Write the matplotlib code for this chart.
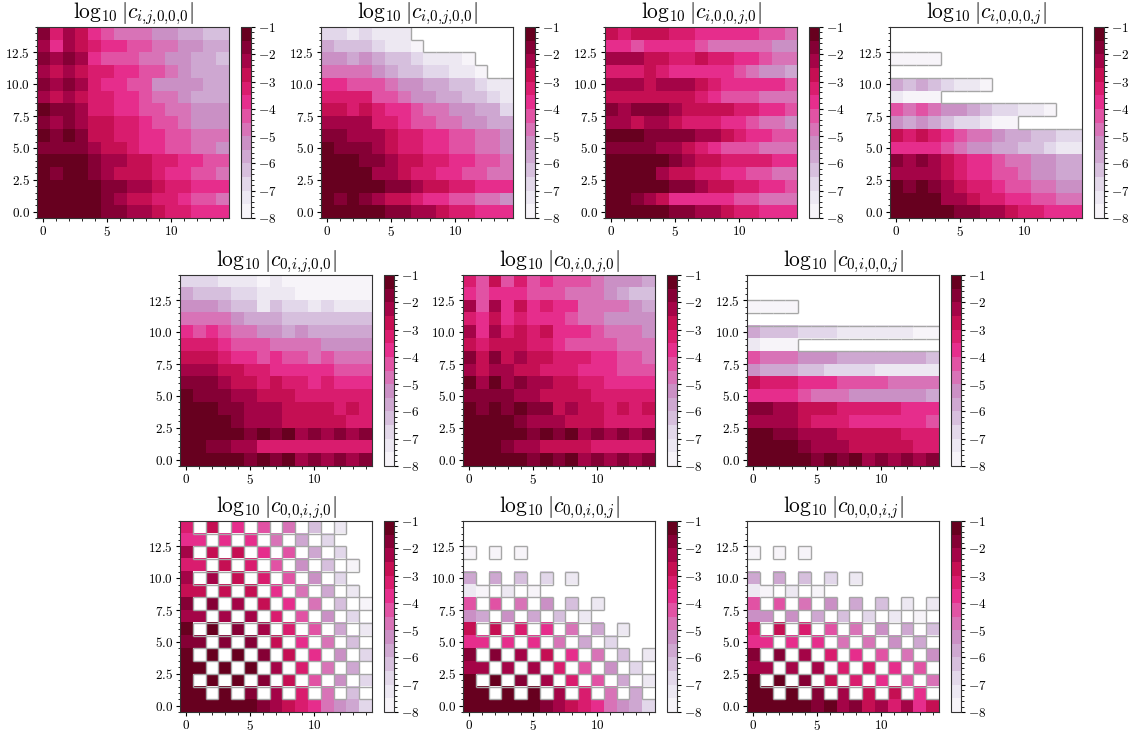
import numpy as np
import matplotlib
matplotlib.use('Agg')
import matplotlib.pyplot as plt
from matplotlib.collections import LineCollection
from matplotlib.colors import Normalize
from matplotlib.ticker import AutoMinorLocator, FixedLocator

plt.rcParams.update({
    'font.family': 'serif',
    'font.serif': ['cmr10', 'DejaVu Serif'],
    'mathtext.fontset': 'cm',
    'axes.formatter.use_mathtext': True,
    'font.size': 9.5,
    'xtick.labelsize': 9.5,
    'ytick.labelsize': 9.5,
    'xtick.direction': 'out',
    'ytick.direction': 'out',
    'xtick.major.size': 3,
    'ytick.major.size': 3,
    'xtick.minor.size': 1.8,
    'ytick.minor.size': 1.8,
    'xtick.major.pad': 2,
    'ytick.major.pad': 2,
    'axes.linewidth': 0.8,
})

# Read colour levels: one character per cell, k = 0..13 ('a'=10 ... 'd'=13),
# the cell value is the centre of its band: log10|c| = -8 + 0.5*k + 0.25 ; '.' = no value
# Rows are listed from top (j = 14) to bottom (j = 0), columns i = 0..14.
c_ij000 = ["c9ba87666554433", "b8ba98877665544", "cbcb87776655443", "baba99887765444",
           "cbcb98877555544", "baba99887665444", "dccb99887766555", "cbcbaa998776555",
           "dcdcaa998877666", "ccccbaa98877665", "ddddcbbaa998877", "dcddcbaaa988776",
           "dddddccbba99888", "dddddcbaa998776", "dddddccbba99888"]
c_i0j00 = ["2212111........", "43332110.......", "554543321110...", "6666543322110..",
           "887776554433211", "999977655443321", "aa9a98876655442", "bbbb99877665544",
           "ccbbba998877665", "dcccba998877665", "dddccbaa9988776", "ddddbba99887766",
           "dddddccbaa99888", "dcdcbaa98877665", "dddddccbba99888"]
c_i00j0 = ["a9aaa9988888776", "887888876666655", "bbbaa99a9988766", "999a98888876554",
           "bbbabbba9888887", "aaaaaaa98777666", "cbcccbaaaa99887", "bbabba999887665",
           "dddccccbba98877", "ccccbba98777666", "dddddcbaa999988", "ddddbaa99887766",
           "dddddccbaa99887", "ddcba8888877666", "dddddccbba99888"]
c_i000j = ["...............", "...............", "0000...........", "...............",
           "43432110.......", "1000...........", "7676554322110..", "5454322100.....",
           "a9a987665443322", "888876554433211", "cbcba9887665544", "bbbba9887765544",
           "dcdcba998776655", "ddddbba99887766", "dddddccbba99888"]
c_0ij00 = ["222111010000000", "433322111000000", "555433132212111", "666654443333333",
           "878766554544444", "999877766665555", "aaa988787767666", "bbbaa9988888777",
           "cccbaa9a9989888", "dcccbbaaa999999", "dddccbbbaaaa9a9", "ddddcbbbaaaaa99",
           "dddddcdcdbcbcbc", "ddccbb999999999", "dddddcdcdbcbcbc"]
c_0i0j0 = ["97a797877765554", "878887776665433", "b7b8a8988666654", "98a898887665555",
           "b8b9a9a88876665", "a9aaa9987777666", "cacabaa99988776", "babbaa999888777",
           "dbdbcbbaa998888", "ccccbbaaaa99999", "dcdcdccabaa9a9a", "ddddcbbbaaa9999",
           "dddddcdcdbcbcbc", "dddcbbaaaa99999", "dddddcdcdbcbcbc"]
c_0i00j = ["...............", "...............", "0000...........", "...............",
           "433322211111100", "1000...........", "766655544444443", "544433222211111",
           "a99988877776666", "888876665555554", "ccbbaaa99999888", "bbbba9998888887",
           "ddccbbbaaaaa999", "ddddcbbbaaaaa99", "dddddcdcdbcbcbc"]
c_00ij0 = ["9.a.8.7.6.3.1..", "88.8.8.6.4.2...", "b.a.a.8.7.4.2..", "99.a.9.7.5.3.0.",
           "b.b.a.9.7.5.2..", "aa.a.a.8.6.4.1.", "c.c.b.a.8.6.3.0", "bb.b.b.9.7.5.2.",
           "d.d.c.b.9.7.4.1", "cc.c.c.a.8.6.3.", "d.d.d.c.a.8.5.2", "dd.d.d.b.9.6.4.",
           "d.d.d.c.a.7.5.2", "dd.d.c.b.9.6.3.", "ddddddcba986542"]
c_00i0j = ["...............", "...............", "0.0.0..........", "...............",
           "4.4.3.2.1......", "10.1.0.........", "7.7.6.5.3.1....", "54.5.4.3.1.....",
           "a.a.9.8.6.4.1..", "88.8.8.6.4.2...", "c.c.b.a.8.6.3.1", "bb.b.b.9.7.5.2.",
           "d.d.c.b.9.7.4.1", "dd.d.d.b.9.6.4.", "ddddddcba986542"]
c_000ij = ["...............", "...............", "0.0.0..........", "...............",
           "4.4.3.2.1......", "10.1.0.........", "7.7.6.5.4.3.1.1", "55.5.4.3.2.1.0.",
           "9.a.9.7.6.5.4.3", "88.8.8.6.6.5.4.", "c.c.b.9.8.7.6.5", "bb.b.b.9.9.8.7.",
           "d.d.c.a.9.8.7.6", "dd.d.c.b.a.a.8.", "dddddcdbcab9b8a"]

panels = [c_ij000, c_i0j00, c_i00j0, c_i000j, c_0ij00, c_0i0j0, c_0i00j,
          c_00ij0, c_00i0j, c_000ij]
titles = [r'$\log_{10}|c_{i{,}j{,}0{,}0{,}0}|$', r'$\log_{10}|c_{i{,}0{,}j{,}0{,}0}|$',
          r'$\log_{10}|c_{i{,}0{,}0{,}j{,}0}|$', r'$\log_{10}|c_{i{,}0{,}0{,}0{,}j}|$',
          r'$\log_{10}|c_{0{,}i{,}j{,}0{,}0}|$', r'$\log_{10}|c_{0{,}i{,}0{,}j{,}0}|$',
          r'$\log_{10}|c_{0{,}i{,}0{,}0{,}j}|$', r'$\log_{10}|c_{0{,}0{,}i{,}j{,}0}|$',
          r'$\log_{10}|c_{0{,}0{,}i{,}0{,}j}|$', r'$\log_{10}|c_{0{,}0{,}0{,}i{,}j}|$']
cbar_ticks = [-1, -2, -3, -4, -5, -6, -7, -8]
x_ticks = [0, 5, 10]
y_ticks = [0.0, 2.5, 5.0, 7.5, 10.0, 12.5]


def decode(rows):
    out = np.full((len(rows), len(rows[0])), np.nan)
    for r, s in enumerate(rows):
        for c, ch in enumerate(s):
            if ch != '.':
                out[r, c] = -8 + 0.5 * int(ch, 16) + 0.25
    return out[::-1]  # bottom row first


W, H = 1128, 731
fig = plt.figure(figsize=(W / 100, H / 100), dpi=100)
pos = [(37, 27), (321, 27), (605, 27), (890, 27),
       (180, 275), (463, 275), (747, 275),
       (180, 521), (463, 521), (747, 521)]
aw, ah = 192, 191
cmap = plt.get_cmap('PuRd', 14)
norm = Normalize(-8, -1)

for rows, title, (px, py) in zip(panels, titles, pos):
    data = decode(rows)
    ax = fig.add_axes([px / W, 1 - (py + ah) / H, aw / W, ah / H])
    im = ax.imshow(np.ma.masked_invalid(data), origin='lower', cmap=cmap, norm=norm,
                   interpolation='nearest', aspect='auto')
    # grey outline where valid cells meet empty cells
    nan = np.isnan(data)
    ny, nx = data.shape
    segs = []
    for j in range(ny):
        for i in range(nx):
            if not nan[j, i]:
                continue
            if i + 1 < nx and not nan[j, i + 1]:
                segs.append([(i + 0.5, j - 0.5), (i + 0.5, j + 0.5)])
            if i - 1 >= 0 and not nan[j, i - 1]:
                segs.append([(i - 0.5, j - 0.5), (i - 0.5, j + 0.5)])
            if j + 1 < ny and not nan[j + 1, i]:
                segs.append([(i - 0.5, j + 0.5), (i + 0.5, j + 0.5)])
            if j - 1 >= 0 and not nan[j - 1, i]:
                segs.append([(i - 0.5, j - 0.5), (i + 0.5, j - 0.5)])
    if segs:
        ax.add_collection(LineCollection(segs, colors='#a6a6a6', linewidths=1.0))
    ax.set_xlim(-0.5, 14.5)
    ax.set_ylim(-0.5, 14.5)
    ax.xaxis.set_major_locator(FixedLocator(x_ticks))
    ax.yaxis.set_major_locator(FixedLocator(y_ticks))
    ax.xaxis.set_minor_locator(AutoMinorLocator(5))
    ax.yaxis.set_minor_locator(AutoMinorLocator(5))
    ax.yaxis.set_major_formatter(plt.FormatStrFormatter('$%.1f$'))
    ax.xaxis.set_major_formatter(plt.FormatStrFormatter('$%d$'))
    ax.set_title(title, fontsize=15.5, pad=3)
    for sp in ax.spines.values():
        sp.set_color('#333333')

    cax = fig.add_axes([(px + 204) / W, 1 - (py + ah) / H, 10 / W, ah / H])
    cb = fig.colorbar(im, cax=cax, ticks=cbar_ticks)
    cb.ax.yaxis.set_minor_locator(AutoMinorLocator(5))
    cb.ax.set_yticklabels([r'$-%d$' % (-t) for t in cbar_ticks])
    cb.outline.set_edgecolor('#333333')

fig.savefig('out.png', dpi=100)
